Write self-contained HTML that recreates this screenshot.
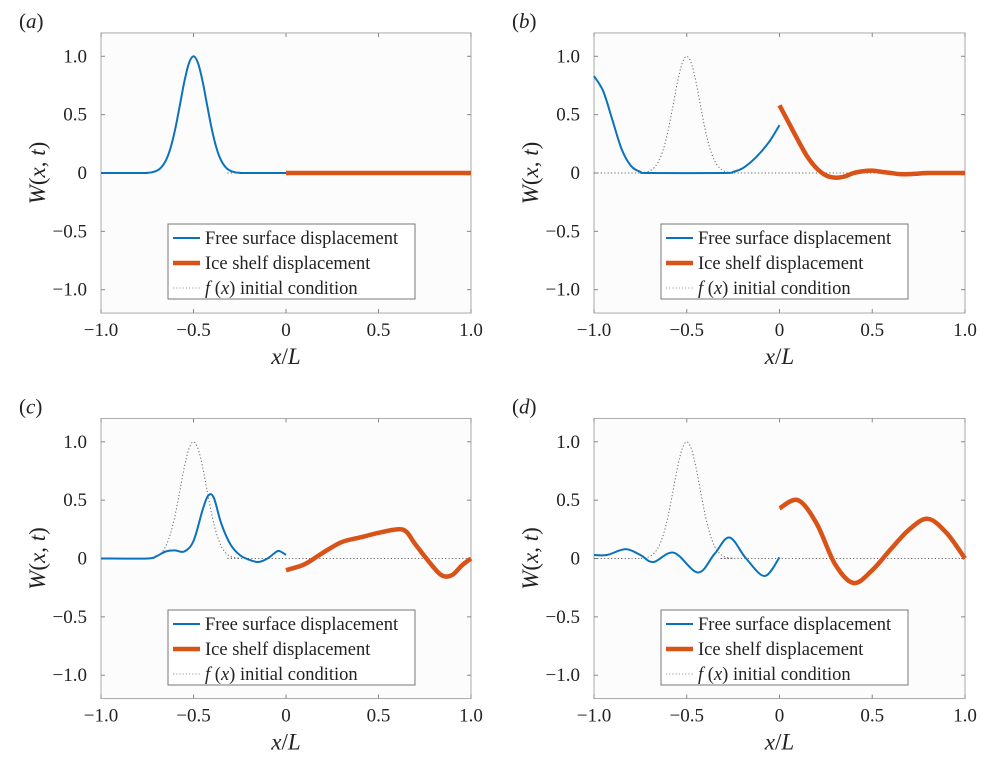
<!DOCTYPE html>
<html><head><meta charset="utf-8"><style>
body{margin:0;background:#fff;}
svg text{font-family:"Liberation Serif",serif;fill:#222;}
</style></head><body>
<svg id="fig" width="995" height="760" xmlns="http://www.w3.org/2000/svg"></svg>
<script>
const fX=[-1,-0.775,-0.75,-0.725,-0.7,-0.675,-0.65,-0.625,-0.6,-0.575,-0.55,-0.525,-0.5,-0.475,-0.45,-0.425,-0.4,-0.375,-0.35,-0.325,-0.3,-0.275,-0.25,-0.225,1];
const fY=[0,0,0.002,0.006,0.018,0.047,0.105,0.21,0.368,0.57,0.779,0.939,1,0.939,0.779,0.57,0.368,0.21,0.105,0.047,0.018,0.006,0.002,0,0];
const aBlueX=[-1,-0.775,-0.75,-0.725,-0.7,-0.675,-0.65,-0.625,-0.6,-0.575,-0.55,-0.525,-0.5,-0.475,-0.45,-0.425,-0.4,-0.375,-0.35,-0.325,-0.3,-0.275,-0.25,-0.225,0];
const aBlueY=[0,0,0.002,0.006,0.018,0.047,0.105,0.21,0.368,0.57,0.779,0.939,1,0.939,0.779,0.57,0.368,0.21,0.105,0.047,0.018,0.006,0.002,0,0];
const aIceX=[0,0.5,1];
const aIceY=[0,0,0];
const bBlueX=[-1,-0.95,-0.9,-0.85,-0.8,-0.75,-0.7,-0.3,-0.25,-0.2,-0.15,-0.1,-0.05,0];
const bBlueY=[0.83,0.7,0.45,0.2,0.06,0.01,0,0,0.01,0.04,0.1,0.18,0.28,0.41];
const bIceX=[0,0.05,0.1,0.15,0.2,0.25,0.3,0.35,0.4,0.45,0.5,0.55,0.6,0.65,0.7,0.75,0.8,1];
const bIceY=[0.58,0.43,0.28,0.14,0.04,-0.02,-0.04,-0.03,0,0.015,0.02,0.01,0,-0.01,-0.01,-0.005,0,0];
const cBlueX=[-1,-0.75,-0.7,-0.65,-0.6,-0.55,-0.5,-0.45,-0.42,-0.39,-0.35,-0.3,-0.25,-0.2,-0.15,-0.1,-0.05,-0.03,0];
const cBlueY=[0,0,0.02,0.06,0.07,0.06,0.15,0.42,0.54,0.52,0.3,0.12,0.03,-0.01,-0.03,0,0.06,0.06,0.03];
const cIceX=[0,0.1,0.2,0.3,0.4,0.5,0.6,0.65,0.7,0.8,0.85,0.9,0.95,1];
const cIceY=[-0.1,-0.05,0.05,0.14,0.18,0.22,0.25,0.23,0.12,-0.08,-0.15,-0.14,-0.06,0];
const dBlueX=[-1,-0.93,-0.83,-0.75,-0.68,-0.57,-0.44,-0.35,-0.27,-0.18,-0.08,0];
const dBlueY=[0.03,0.03,0.08,0.03,-0.03,0.05,-0.12,0.04,0.18,0.0,-0.15,0.01];
const dIceX=[0,0.1,0.2,0.3,0.4,0.5,0.6,0.7,0.8,0.9,1];
const dIceY=[0.43,0.5,0.3,-0.05,-0.21,-0.1,0.08,0.25,0.34,0.22,0];
const xTicks=[-1,-0.5,0,0.5,1];
const xTickLabels=["\u22121.0","\u22120.5","0","0.5","1.0"];
const yTicks=[1,0.5,0,-0.5,-1];
const yTickLabels=["1.0","0.5","0","\u22120.5","\u22121.0"];
const legendLabels=["Free surface displacement","Ice shelf displacement","initial condition"];

const svg=document.getElementById('fig');
const NS="http://www.w3.org/2000/svg";
function mk(tag,attrs,parent){const e=document.createElementNS(NS,tag);for(const k in attrs)e.setAttribute(k,attrs[k]);(parent||svg).appendChild(e);return e;}
function pathD(xs,ys,sx,sy){
  const p=xs.map((x,i)=>[sx(x),sy(ys[i])]);
  let d="M"+p[0][0]+","+p[0][1];
  for(let i=0;i<p.length-1;i++){
    const p0=p[Math.max(0,i-1)],p1=p[i],p2=p[i+1],p3=p[Math.min(p.length-1,i+2)];
    const c1=[p1[0]+(p2[0]-p0[0])/6,p1[1]+(p2[1]-p0[1])/6];
    const c2=[p2[0]-(p3[0]-p1[0])/6,p2[1]-(p3[1]-p1[1])/6];
    d+=" C"+c1[0]+","+c1[1]+" "+c2[0]+","+c2[1]+" "+p2[0]+","+p2[1];
  }
  return d;
}
const panels=[
 {id:'a',L:101,R:471,Y0:173,bx:aBlueX,by:aBlueY,ix:aIceX,iy:aIceY,lx:168,ly:224},
 {id:'b',L:594,R:965,Y0:173,bx:bBlueX,by:bBlueY,ix:bIceX,iy:bIceY,lx:661,ly:224},
 {id:'c',L:101,R:471,Y0:558.5,bx:cBlueX,by:cBlueY,ix:cIceX,iy:cIceY,lx:168,ly:610},
 {id:'d',L:594,R:965,Y0:558.5,bx:dBlueX,by:dBlueY,ix:dIceX,iy:dIceY,lx:661,ly:610}];
const U=116.7;
panels.forEach(P=>{
  const g=mk('g',{});
  
  
  const sx=x=>P.L+(x+1)/2*(P.R-P.L);
  const sy=y=>P.Y0-y*U;
  const top=sy(1.2),bot=sy(-1.2);
  const bg=mk('rect',{x:P.L,y:top,width:P.R-P.L,height:bot-top,fill:'#fcfcfc',stroke:'#aaa','stroke-width':1},g);
  
  
  xTicks.forEach((t,i)=>{
    mk('line',{x1:sx(t),x2:sx(t),y1:bot,y2:bot-4,stroke:'#888'},g);
    mk('line',{x1:sx(t),x2:sx(t),y1:top,y2:top+4,stroke:'#888'},g);
    const tx=mk('text',{x:sx(t),y:bot+23,'font-size':19,'text-anchor':'middle'},g);
    tx.textContent=xTickLabels[i];
    
    
  });
  yTicks.forEach((t,i)=>{
    mk('line',{x1:P.L,x2:P.L+4,y1:sy(t),y2:sy(t),stroke:'#888'},g);
    mk('line',{x1:P.R,x2:P.R-4,y1:sy(t),y2:sy(t),stroke:'#888'},g);
    const tx=mk('text',{x:P.L-14,y:sy(t)+6,'font-size':19,'text-anchor':'end'},g);
    tx.textContent=yTickLabels[i];
    
    
  });
  const fl=mk('path',{d:pathD(fX,fY,sx,sy),fill:'none',stroke:'#666','stroke-width':1,'stroke-dasharray':'1.2,2.2'},g);
  
  
  const bl=mk('path',{d:pathD(P.bx,P.by,sx,sy),fill:'none',stroke:'#0a72bd','stroke-width':2},g);
  
  
  const il=mk('path',{d:pathD(P.ix,P.iy,sx,sy),fill:'none',stroke:'#d95319','stroke-width':4.5},g);
  
  
  const lab=mk('text',{x:P.L-82,y:top-5,'font-size':21},g);
  lab.innerHTML='(<tspan font-style="italic">'+P.id+'</tspan>)';
  
  
  const xt=mk('text',{x:(P.L+P.R)/2,y:bot+51,'font-size':23,'text-anchor':'middle'},g);
  xt.innerHTML='<tspan font-style="italic">x</tspan>/<tspan font-style="italic">L</tspan>';
  
  
  const yt=mk('text',{x:0,y:0,'font-size':23,'text-anchor':'middle',transform:'translate('+(P.L-56)+','+P.Y0+') rotate(-90)'},g);
  yt.innerHTML='<tspan font-style="italic">W</tspan>(<tspan font-style="italic">x</tspan>, <tspan font-style="italic">t</tspan>)';
  
  
  const lg=mk('g',{},g);
  
  
  mk('rect',{x:P.lx,y:P.ly,width:247,height:75,fill:'#fff',stroke:'#777','stroke-width':1},lg);
  const styles=[{s:'#0a72bd',w:2,da:''},{s:'#d95319',w:4.5,da:''},{s:'#999',w:1,da:'1.2,2'}];
  legendLabels.forEach((t,i)=>{
    const yy=P.ly+14+i*25;
    const ln=mk('line',{x1:P.lx+5,x2:P.lx+32,y1:yy,y2:yy,stroke:styles[i].s,'stroke-width':styles[i].w,'stroke-dasharray':styles[i].da},lg);
    
    
    const tx=mk('text',{x:P.lx+37,y:yy+6,'font-size':18.5},lg);
    if(i==2) tx.innerHTML='<tspan font-style="italic">f</tspan> (<tspan font-style="italic">x</tspan>) '+t; else tx.textContent=t;
    
    
  });
});
</script>
</body></html>
